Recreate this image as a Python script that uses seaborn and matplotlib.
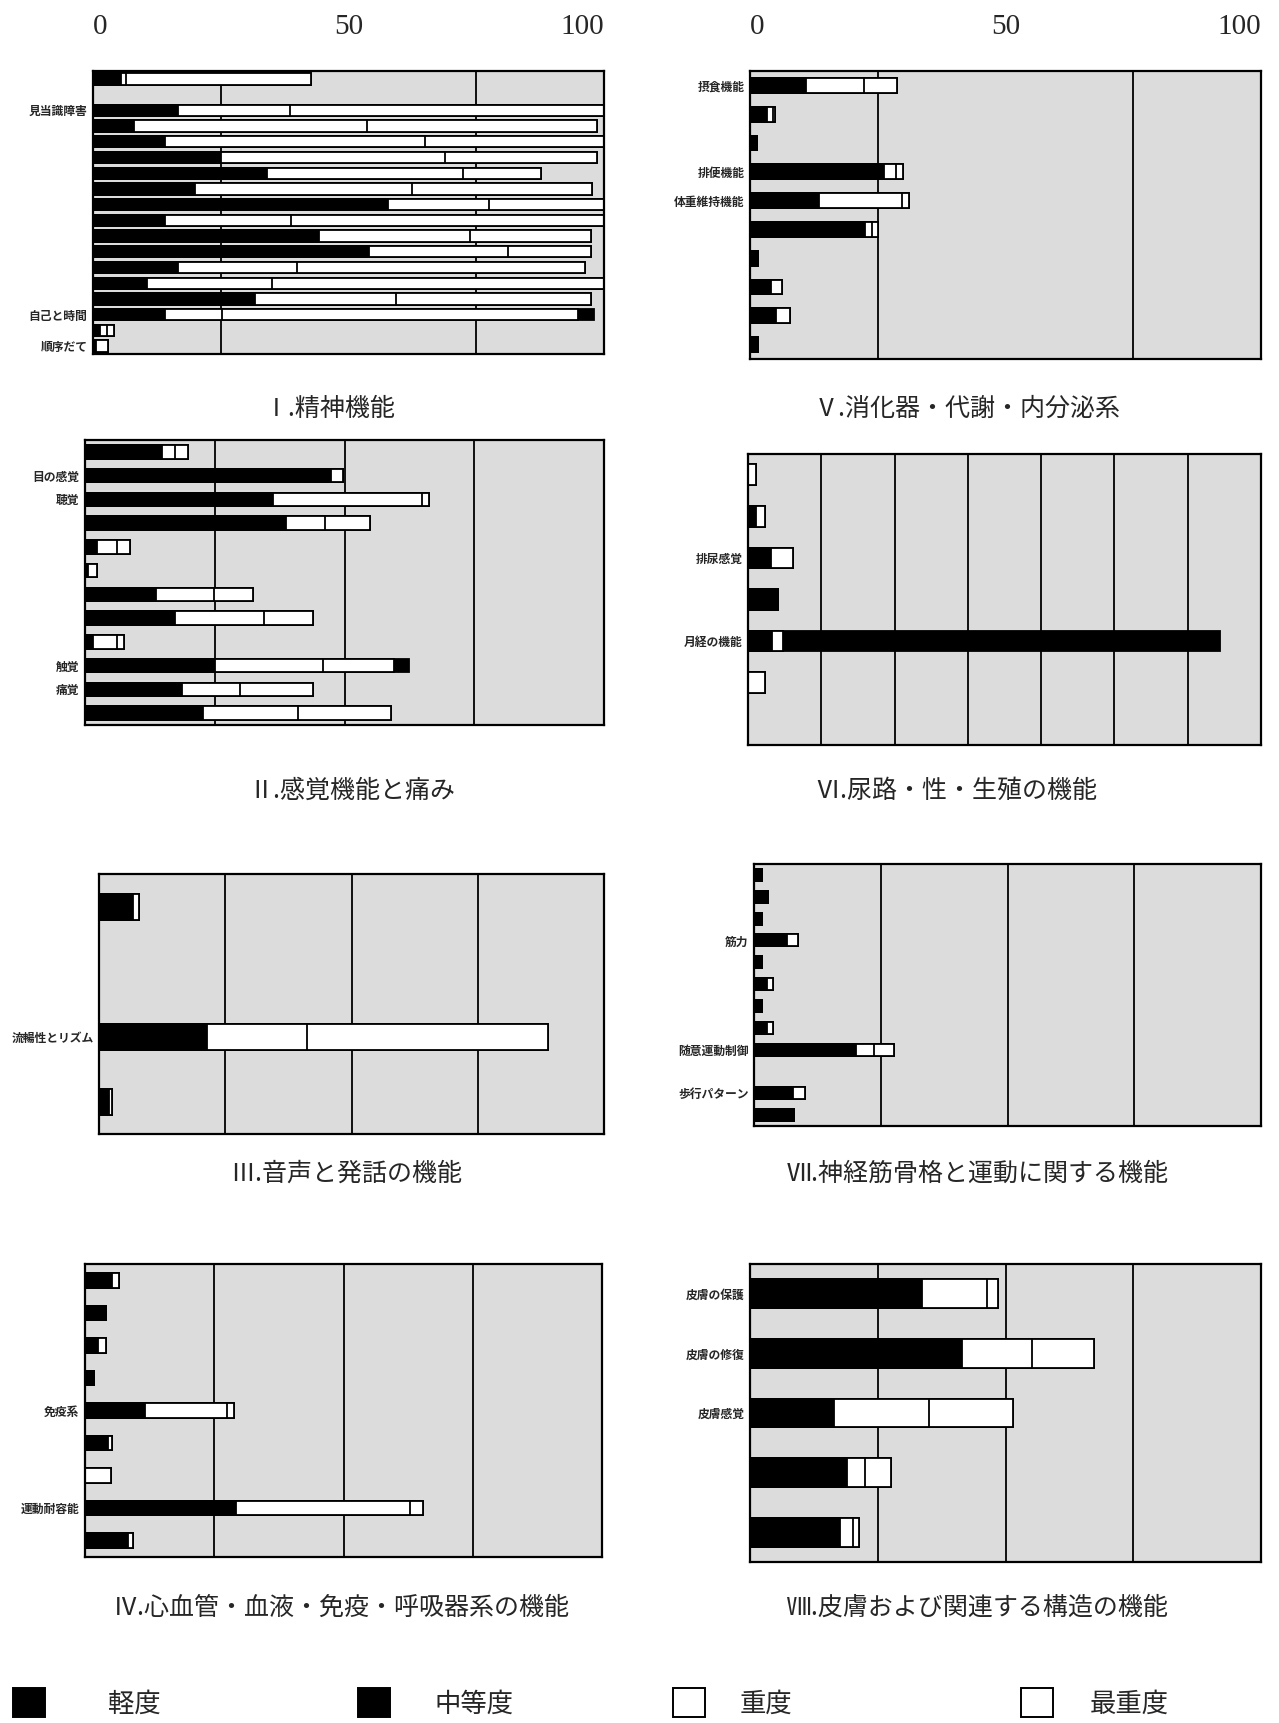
import numpy as np
import pandas as pd
import matplotlib
matplotlib.use('Agg')
import matplotlib.pyplot as plt
from matplotlib.patches import Patch
import seaborn as sns

W, H = 1279, 1723

# ---------------- data ----------------
# legend categories (colours as in the legend)
categories = ['軽度', '中等度', '重度', '最重度']
cat_colors = ['black', 'black', 'white', 'white']

# segment lengths per row (stack order as drawn: 軽度 black, 重度 white, 最重度 white, 中等度 black)
# I. 精神機能
p1_labels = ['', '', '見当識障害', '', '', '', '', '', '', '', '', '', '', '', '', '自己と時間', '', '順序だて']
p1_mild     = [5.4, 0, 16.6, 8.0, 14.0, 25.0, 34.0, 20.0, 57.7, 14.0, 44.3, 54.0, 16.6, 10.6, 31.7, 14.0, 1.3, 0.5]
p1_severe   = [1.0, 0, 22.0, 45.6, 51.0, 43.8, 38.5, 42.4, 19.7, 24.8, 29.5, 27.2, 23.4, 24.4, 27.5, 11.2, 1.4, 2.4]
p1_most     = [36.2, 0, 61.4, 45.1, 35.0, 29.9, 15.1, 35.3, 22.6, 61.2, 23.7, 16.3, 56.3, 65.0, 38.3, 69.8, 1.4, 0]
p1_moderate = [0, 0, 0, 0, 0, 0, 0, 0, 0, 0, 0, 0, 0, 0, 0, 3.0, 0, 0]

# II. 感覚機能と痛み
p2_labels = ['', '目の感覚', '聴覚', '', '', '', '', '', '', '触覚', '痛覚', '']
p2_mild     = [14.9, 47.4, 36.3, 38.8, 2.4, 0.5, 13.6, 17.4, 1.5, 25.1, 18.7, 22.7]
p2_severe   = [2.5, 2.3, 28.7, 7.4, 3.7, 1.8, 11.2, 17.1, 4.6, 20.7, 11.1, 18.3]
p2_most     = [2.4, 0, 1.2, 8.7, 2.6, 0, 7.5, 9.4, 1.4, 13.8, 14.1, 17.9]
p2_moderate = [0, 0, 0, 0, 0, 0, 0, 0, 0, 2.9, 0, 0]

# III. 音声と発話の機能
p3_labels = ['', '', '流暢性とリズム', '']
p3_mild     = [6.7, 0, 21.3, 2.0]
p3_severe   = [1.2, 0, 19.9, 0.6]
p3_most     = [0, 0, 47.8, 0]
p3_moderate = [0, 0, 0, 0]

# IV. 心血管・血液・免疫・呼吸器系の機能
p4_labels = ['', '', '', '', '免疫系', '', '', '運動耐容能', '']
p4_mild     = [5.3, 4.1, 2.5, 1.7, 11.6, 4.5, 0, 29.3, 8.4]
p4_severe   = [1.2, 0, 1.6, 0, 15.9, 0.8, 5.1, 33.5, 0.8]
p4_most     = [0, 0, 0, 0, 1.4, 0, 0, 2.6, 0]
p4_moderate = [0, 0, 0, 0, 0, 0, 0, 0, 0]

# V. 消化器・代謝・内分泌系
p5_labels = ['摂食機能', '', '', '排便機能', '体重維持機能', '', '', '', '', '']
p5_mild     = [11.0, 3.4, 1.4, 26.2, 13.6, 22.6, 1.6, 4.2, 5.0, 1.6]
p5_severe   = [11.3, 1.1, 0, 2.4, 16.2, 1.2, 0, 2.0, 2.8, 0]
p5_most     = [6.4, 0.4, 0, 1.3, 1.4, 1.2, 0, 0, 0, 0]
p5_moderate = [0, 0, 0, 0, 0, 0, 0, 0, 0, 0]

# VI. 尿路・性・生殖の機能 (scale 0-70)
p6_labels = ['', '', '排尿感覚', '', '月経の機能', '', '']
p6_mild     = [0, 1.1, 3.1, 4.1, 3.3, 0, 0]
p6_severe   = [1.1, 1.2, 3.0, 0, 1.5, 2.3, 0]
p6_most     = [0, 0, 0, 0, 0, 0, 0]
p6_moderate = [0, 0, 0, 0, 59.6, 0, 0]

# VII. 神経筋骨格と運動に関する機能
p7_labels = ['', '', '', '筋力', '', '', '', '', '随意運動制御', '', '歩行パターン', '']
p7_mild     = [1.6, 2.8, 1.6, 6.6, 1.6, 2.6, 1.6, 2.6, 20.2, 0, 7.6, 7.8]
p7_severe   = [0, 0, 0, 2.1, 0, 1.2, 0, 1.2, 3.5, 0, 2.4, 0]
p7_most     = [0, 0, 0, 0, 0, 0, 0, 0, 4.0, 0, 0, 0]
p7_moderate = [0, 0, 0, 0, 0, 0, 0, 0, 0, 0, 0, 0]

# VIII. 皮膚および関連する構造の機能
p8_labels = ['皮膚の保護', '皮膚の修復', '皮膚感覚', '', '']
p8_mild     = [33.7, 41.5, 16.5, 19.0, 17.7]
p8_severe   = [12.6, 13.7, 18.6, 3.6, 2.5]
p8_most     = [2.3, 12.1, 16.3, 4.9, 1.1]
p8_moderate = [0, 0, 0, 0, 0]

titles = ['Ⅰ.精神機能', 'Ⅱ.感覚機能と痛み', 'Ⅲ.音声と発話の機能', 'Ⅳ.心血管・血液・免疫・呼吸器系の機能',
          'Ⅴ.消化器・代謝・内分泌系', 'Ⅵ.尿路・性・生殖の機能', 'Ⅶ.神経筋骨格と運動に関する機能',
          'Ⅷ.皮膚および関連する構造の機能']
top_ticks = [0, 50, 100]

# ---------------- style ----------------
sns.set_theme(style='white')
plt.rcParams['font.family'] = ['Noto Sans CJK JP', 'DejaVu Sans']

fig = plt.figure(figsize=(W / 100, H / 100), dpi=100)
fig.patch.set_facecolor('white')


def ax_at(x0, x1, y0, y1):
    return fig.add_axes([x0 / W, 1 - y1 / H, (x1 - x0) / W, (y1 - y0) / H])


def draw_panel(ax, labels, mild, severe, most, moderate, xmax, step, bar_w, top=False):
    n = len(labels)
    rows = [f'r{i}' for i in range(n)]
    c1 = np.array(mild, float)
    c2 = c1 + np.array(severe, float)
    c3 = c2 + np.array(most, float)
    c4 = c3 + np.array(moderate, float)
    df = pd.DataFrame({'row': rows, 'c1': c1, 'c2': c2, 'c3': c3, 'c4': c4})
    df[['c1', 'c2', 'c3', 'c4']] = df[['c1', 'c2', 'c3', 'c4']].replace(0, np.nan)
    ax.set_facecolor('#dcdcdc')
    for col, colr in [('c4', 'black'), ('c3', 'white'), ('c2', 'white'), ('c1', 'black')]:
        sns.barplot(data=df, x=col, y='row', order=rows, orient='h', color=colr,
                    edgecolor='black', linewidth=1.3, width=bar_w, errorbar=None,
                    saturation=1, ax=ax)
    ax.set_xlim(0, xmax)
    ax.set_ylim(n - 0.5, -0.5)
    ax.set_xlabel('')
    ax.set_ylabel('')
    ax.set_xticks(np.arange(step, xmax, step), minor=True)
    ax.grid(which='minor', axis='x', color='black', linewidth=1.3)
    ax.grid(which='major', visible=False)
    ax.set_axisbelow(True)
    ax.set_yticks(range(n))
    ax.set_yticklabels(labels, fontsize=8.5, fontweight='bold')
    ax.tick_params(axis='y', length=0, pad=4)
    ax.tick_params(axis='x', which='both', length=0)
    if top:
        ax.set_xticks(top_ticks)
        ax.set_xticklabels([str(t) for t in top_ticks])
        ax.tick_params(axis='x', top=True, labeltop=True, bottom=False,
                       labelbottom=False, pad=22, length=0)
        for tick, ha in zip(ax.xaxis.get_major_ticks(), ['left', 'center', 'right']):
            tick.label2.set_horizontalalignment(ha)
            tick.label2.set_fontsize(21)
            tick.label2.set_fontfamily(['Liberation Serif', 'DejaVu Serif'])
    else:
        ax.set_xticks([])
    for s in ax.spines.values():
        s.set_visible(True)
        s.set_color('black')
        s.set_linewidth(1.6)


ax1 = ax_at(93, 604, 71, 354)
draw_panel(ax1, p1_labels, p1_mild, p1_severe, p1_most, p1_moderate, 100, 25, 0.72, top=True)
ax5 = ax_at(750, 1261, 71, 359)
draw_panel(ax5, p5_labels, p5_mild, p5_severe, p5_most, p5_moderate, 100, 25, 0.52, top=True)
ax2 = ax_at(85, 604, 440, 725)
draw_panel(ax2, p2_labels, p2_mild, p2_severe, p2_most, p2_moderate, 100, 25, 0.56)
ax6 = ax_at(748, 1261, 454, 745)
draw_panel(ax6, p6_labels, p6_mild, p6_severe, p6_most, p6_moderate, 70, 10, 0.5)
ax3 = ax_at(99, 604, 874, 1134)
draw_panel(ax3, p3_labels, p3_mild, p3_severe, p3_most, p3_moderate, 100, 25, 0.4)
ax7 = ax_at(754, 1261, 864, 1126)
draw_panel(ax7, p7_labels, p7_mild, p7_severe, p7_most, p7_moderate, 100, 25, 0.55)
ax4 = ax_at(85, 602, 1264, 1557)
draw_panel(ax4, p4_labels, p4_mild, p4_severe, p4_most, p4_moderate, 100, 25, 0.45)
ax8 = ax_at(750, 1261, 1264, 1562)
draw_panel(ax8, p8_labels, p8_mild, p8_severe, p8_most, p8_moderate, 100, 25, 0.48)

title_pos = [(330, 409), (352, 791), (346, 1174), (341, 1608),
             (967, 409), (956, 791), (978, 1174), (978, 1608)]
for t, (x, y) in zip(titles, title_pos):
    fig.text(x / W, 1 - y / H, t, ha='center', va='center', fontsize=18)

# legend: four separate entries laid out as in the reference
leg_x = [0, 345, 660, 1008]
leg_pad = [2.4, 1.7, 1.3, 1.4]
for name, colr, x, pad in zip(categories, cat_colors, leg_x, leg_pad):
    h = Patch(facecolor=colr, edgecolor='black', linewidth=1.4)
    fig.legend(handles=[h], labels=[name], loc='center left',
               bbox_to_anchor=(x / W, 1 - 1703 / H), frameon=False, fontsize=19,
               handlelength=1.2, handleheight=1.3, handletextpad=pad, borderpad=0)

fig.savefig('out.png', dpi=100)
